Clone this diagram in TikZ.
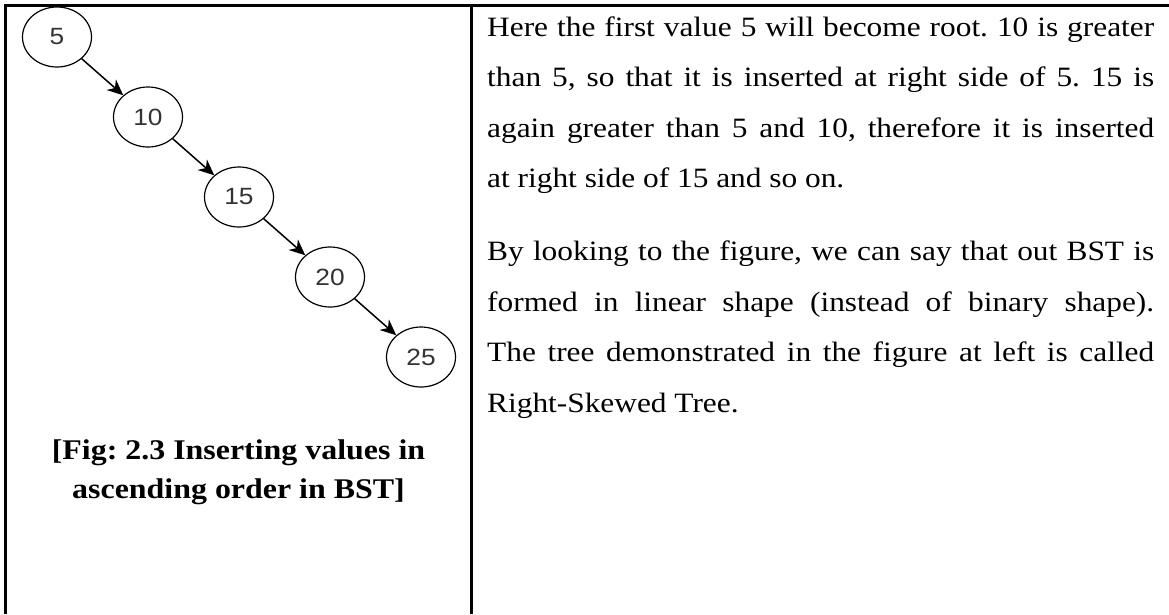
\documentclass[tikz,border=0pt]{standalone}
\usepackage{fontspec}
\usepackage{xcolor}
\usepackage{tikz}
\usetikzlibrary{arrows.meta,shapes.geometric}
\setmainfont{Liberation Serif}[FakeStretch=1.12]
\newfontfamily\keyfont{Liberation Sans}[FakeStretch=1.12]
\definecolor{keygray}{HTML}{333333}
\tikzset{
  rule/.style    = {line width=2.4pt, black},
  bstkey/.style  = {ellipse, draw, line width=1.2pt, minimum width=69pt,
                    minimum height=60pt, inner sep=0pt, text=keygray,
                    font=\keyfont\fontsize{23.5}{25}\selectfont},
  edge/.style    = {-{Stealth[length=16pt,width=14pt,inset=5pt]}, line width=1.5pt},
  caption/.style = {align=center, inner sep=0pt,
                    font=\bfseries\fontsize{28.5}{39}\selectfont},
  bodytext/.style= {text width=667pt, align=justify, inner sep=0pt,
                    font=\fontsize{28}{50.5}\selectfont},
}
\frenchspacing
\begin{document}
\begin{tikzpicture}[x=1pt,y=-1pt]
  \useasboundingbox (0,0) rectangle (1169,614);

  % table rules
  \coordinate (tl) at (5.3,5.3);
  \coordinate (tr) at (1169,5.3);
  \coordinate (bl) at (5.3,614);
  \coordinate (mt) at (471.5,5.3);
  \coordinate (mb) at (471.5,614);
  \draw[rule] (bl) -- (tl) -- (tr);
  \draw[rule] (mt) -- (mb);

  % right-skewed tree
  \foreach \k/\v in {0/5,1/10,2/15,3/20,4/25}
    \node[bstkey] (k\v) at ({57+91*\k},{37+80*\k}) {\v};
  \foreach \a/\b in {5/10,10/15,15/20,20/25}
    \draw[edge] (k\a) -- (k\b);

  \node[caption, anchor=base] (cap) at (238.5,498)
    {[Fig: 2.3 Inserting values in\\ascending order in BST]};

  \node[bodytext, anchor=base west] (txt) at (487,36) {%
    \setlength{\parskip}{22.5pt}%
    Here the first value 5 will become root. 10 is greater\linebreak
    than 5, so that it is inserted at right side of 5. 15 is\linebreak
    again greater than 5 and 10, therefore it is inserted\linebreak
    at right side of 15 and so on.\par
    By looking to the figure, we can say that out BST is\linebreak
    formed in linear shape (instead of binary shape).\linebreak
    The tree demonstrated in the figure at left is called\linebreak
    Right-Skewed Tree.};
\end{tikzpicture}
\end{document}
